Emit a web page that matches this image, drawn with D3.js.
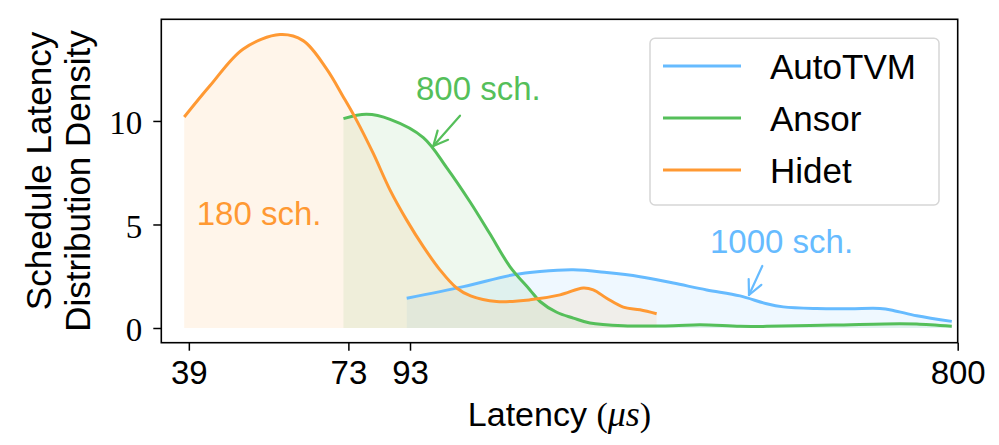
<!DOCTYPE html>
<html>
<head>
<meta charset="utf-8">
<script src="https://cdn.jsdelivr.net/npm/d3@7"></script>
<style>
  html, body { margin: 0; padding: 0; background: #fff; }
  svg { display: block; }
</style>
</head>
<body>
<svg id="chart" width="999" height="445"></svg>
<script>
// ---- data ----
const seriesNames = ["AutoTVM", "Ansor", "Hidet"];
const seriesColors = ["#66bbff", "#55bf5a", "#ff9933"];

const autotvmX = [91.8,114.7,139.5,155.0,176.7,201.4,229.6,261.7,298.4,340.1,377.7,403.1,459.7,523.9,589.4,621.0,681.1,781.6];
const autotvmY = [1.44,2.00,2.57,2.73,2.81,2.68,2.48,2.17,1.84,1.55,1.17,1.02,0.94,0.93,0.94,0.85,0.59,0.32];

const ansorX = [71.6,78.4,86.0,98.0,107.4,117.7,127.3,137.7,149.0,155.0,165.5,176.7,188.6,215.0,261.7,290.6,340.1,377.7,490.2,637.7,681.1,781.6];
const ansorY = [10.11,10.32,10.08,9.20,7.75,6.10,4.55,2.97,1.84,1.28,0.76,0.48,0.24,0.11,0.11,0.16,0.08,0.08,0.14,0.21,0.19,0.08];

const hidetX = [38.3,42.4,48.3,55.8,61.1,67.0,71.6,75.4,80.5,86.0,91.8,98.0,104.6,111.7,118.0,130.7,149.0,167.7,183.7,191.1,201.4,215.0,229.6,245.1];
const hidetY = [10.19,11.71,13.48,14.17,13.88,12.52,11.15,10.03,8.43,6.66,5.21,3.93,2.81,1.93,1.55,1.28,1.36,1.60,1.93,1.84,1.44,1.01,0.88,0.69];

const xTicks = [39, 73, 93, 800];
const yTicks = [0, 5, 10];
const annotations = ["1000 sch.", "800 sch.", "180 sch."];

// ---- layout ----
const svg = d3.select("#chart");
const L = 161.3, R = 957.7, T = 19.3, B = 342.7;
const x = d3.scaleLog().domain([35, 800]).range([L, R]);
const y = d3.scaleLinear().domain([-0.71, 14.91]).range([B, T]);

const sans = "'Liberation Sans', Arial, sans-serif";
const serif = "'Liberation Serif', 'Times New Roman', serif";

const series = [
  d3.zip(autotvmX, autotvmY),
  d3.zip(ansorX, ansorY),
  d3.zip(hidetX, hidetY)
];

const curve = d3.curveCatmullRom.alpha(0.5);
const area = d3.area().x(d => x(d[0])).y0(y(0)).y1(d => y(d[1])).curve(curve);
const line = d3.line().x(d => x(d[0])).y(d => y(d[1])).curve(curve);

const plot = svg.append("g");
series.forEach((s, i) => {
  plot.append("path").attr("d", area(s)).attr("fill", seriesColors[i]).attr("fill-opacity", 0.1);
});
series.forEach((s, i) => {
  plot.append("path").attr("d", line(s)).attr("fill", "none")
    .attr("stroke", seriesColors[i]).attr("stroke-width", 3).attr("stroke-linejoin", "round");
});

// ---- axes ----
const xAxis = d3.axisBottom(x).tickValues(xTicks).tickFormat(d3.format("d")).tickSizeOuter(0).tickSize(8).tickPadding(10);
const gx = svg.append("g").attr("transform", `translate(0,${B})`).call(xAxis);
gx.select(".domain").remove();
gx.selectAll(".tick line").attr("stroke", "#000").attr("stroke-width", 1.5);
gx.selectAll(".tick text").attr("font-family", sans).attr("font-size", 33).attr("fill", "#000");

const yAxis = d3.axisLeft(y).tickValues(yTicks).tickSizeOuter(0).tickSize(8).tickPadding(11);
const gy = svg.append("g").attr("transform", `translate(${L},0)`).call(yAxis);
gy.select(".domain").remove();
gy.selectAll(".tick line").attr("stroke", "#000").attr("stroke-width", 1.5);
gy.selectAll(".tick text").attr("font-family", serif).attr("font-size", 33).attr("fill", "#000").attr("dy", "0.38em");

// frame
svg.append("rect").attr("x", L).attr("y", T).attr("width", R - L).attr("height", B - T)
  .attr("fill", "none").attr("stroke", "#000").attr("stroke-width", 1.6);

// axis labels
const xl = svg.append("text").attr("x", (L + R) / 2).attr("y", 426).attr("text-anchor", "middle")
  .attr("font-size", 34).attr("fill", "#000");
xl.append("tspan").attr("font-family", sans).text("Latency ");
xl.append("tspan").attr("font-family", serif).text("(");
xl.append("tspan").attr("font-family", serif).attr("font-style", "italic").attr("font-size", 36).text("μs");
xl.append("tspan").attr("font-family", serif).text(")");

svg.append("text").attr("transform", "translate(51,171) rotate(-90)").attr("text-anchor", "middle")
  .attr("font-family", sans).attr("font-size", 35).attr("fill", "#000").text("Schedule Latency");
svg.append("text").attr("transform", "translate(90,181) rotate(-90)").attr("text-anchor", "middle")
  .attr("font-family", sans).attr("font-size", 35).attr("fill", "#000").text("Distribution Density");

// ---- annotations ----
const annPos = [[710, 253.3], [416, 100], [196.7, 225]];
annotations.forEach((t, i) => {
  svg.append("text").attr("x", annPos[i][0]).attr("y", annPos[i][1])
    .attr("font-family", sans).attr("font-size", 33).attr("fill", seriesColors[i]).text(t);
});
function arrow(x1, y1, x2, y2, color) {
  const g = svg.append("g").attr("stroke", color).attr("stroke-width", 2.2).attr("fill", "none").attr("stroke-linecap", "round");
  g.append("line").attr("x1", x1).attr("y1", y1).attr("x2", x2).attr("y2", y2);
  const ang = Math.atan2(y1 - y2, x1 - x2);
  const len = 16, spread = 0.45;
  [ang - spread, ang + spread].forEach(a => {
    g.append("line").attr("x1", x2).attr("y1", y2)
      .attr("x2", x2 + len * Math.cos(a)).attr("y2", y2 + len * Math.sin(a));
  });
}
arrow(762.3, 266, 749, 295, seriesColors[0]);
arrow(460, 115.7, 433.3, 146, seriesColors[1]);

// ---- legend ----
const lg = svg.append("g");
lg.append("rect").attr("x", 650).attr("y", 38.3).attr("width", 289).attr("height", 166.7).attr("rx", 5)
  .attr("fill", "#fff").attr("fill-opacity", 0.8).attr("stroke", "#d6d6d6").attr("stroke-width", 1.5);
seriesNames.forEach((n, i) => {
  const cy = 66 + i * 52;
  lg.append("line").attr("x1", 663).attr("x2", 741).attr("y1", cy).attr("y2", cy)
    .attr("stroke", seriesColors[i]).attr("stroke-width", 3);
  lg.append("text").attr("x", 770).attr("y", cy + 13.3).attr("font-family", sans).attr("font-size", 35)
    .attr("fill", "#000").text(n);
});
</script>
</body>
</html>
